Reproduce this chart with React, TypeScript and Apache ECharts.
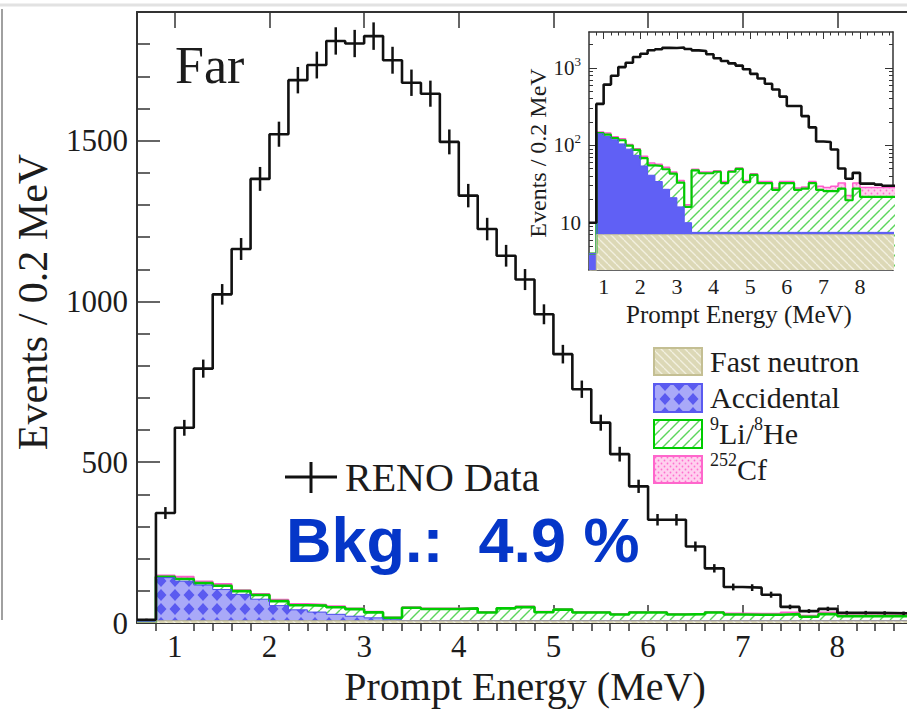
import React, { useEffect, useRef } from "react";
import * as echarts from "echarts";

// ---------------- data: 0.2 MeV bins (lower edges) ----------------
const BIN_LO = [
  0.6, 0.8, 1.0, 1.2, 1.4, 1.6, 1.8, 2.0, 2.2, 2.4, 2.6, 2.8, 3.0, 3.2,
  3.4, 3.6, 3.8, 4.0, 4.2, 4.4, 4.6, 4.8, 5.0, 5.2, 5.4, 5.6, 5.8, 6.0,
  6.2, 6.4, 6.6, 6.8, 7.0, 7.2, 7.4, 7.6, 7.8, 8.0, 8.2, 8.4, 8.6, 8.8,
];
const BIN_WIDTH = 0.2;

const RENO_DATA = [
  10, 342, 607, 791, 1022, 1163, 1381, 1520, 1688, 1735, 1810, 1802, 1825, 1750,
  1680, 1646, 1496, 1329, 1225, 1142, 1068, 960, 836, 727, 623, 525, 425, 321,
  321, 238, 170, 112, 110, 88, 50, 37, 44, 32, 32, 31, 30, 30,
];
const FAST_NEUTRON = [
  2, 7, 7, 7, 7, 7, 7, 7, 7, 7, 7, 7, 7, 7,
  7, 7, 7, 7, 7, 7, 7, 7, 7, 7, 7, 7, 7, 7,
  7, 7, 7, 7, 7, 7, 7, 7, 7, 7, 7, 7, 7, 7,
];
const ACCIDENTAL = [
  2, 134, 123, 111, 97, 82, 67, 47, 34, 27, 20, 14, 9, 3,
  0.5, 0.5, 0.5, 0.5, 0.5, 0.5, 0.5, 0.5, 0.5, 0.5, 0.5, 0.5, 0.5, 0.5,
  0.5, 0.5, 0.5, 0.5, 0.5, 0.5, 0.5, 0.5, 0.5, 0.5, 0.5, 0.5, 0.5, 0.5,
];
const LI_HE = [
  0, 3, 7, 6, 12, 10, 13, 14, 14, 20, 22, 22, 17, 6,
  40, 36, 36, 38, 25, 38, 42, 26, 34, 25, 25, 19, 25, 25,
  19, 20, 25, 19, 18, 18, 20, 12, 20, 14, 14, 14, 14, 14,
];
const CF_252 = [
  0, 4, 7, 5, 5, 3, 3, 4, 4, 3, 3, 2, 2, 1,
  1.5, 1.5, 1.5, 1.5, 1.5, 1.5, 1.5, 1.5, 1.5, 1.5, 1.5, 1.5, 1.5, 1.5,
  1.5, 1.5, 1.5, 3, 3, 4, 5, 3, 5, 7, 7, 7, 7, 7,
];

const X_TICK_LABELS = [1, 2, 3, 4, 5, 6, 7, 8];
const MAIN_Y_TICK_LABELS = [0, 500, 1000, 1500];
const INSET_Y_TICK_LABELS = [10, 100, 1000];

const MAIN_X_MIN = 0.6;
const MAIN_X_MAX = 8.736;
const MAIN_Y_MAX = 1900;
const INSET_X_MAX = 8.9;
const INSET_Y_MIN = 2.45;
const INSET_Y_MAX = 2900;

const SERIF = '"Liberation Serif", "Times New Roman", serif';
const SANS = '"Liberation Sans", Arial, sans-serif';
const INK = "#1c1c1c";
const AXIS = "#333333";

function cumulative(...arrs: number[][]) {
  return BIN_LO.map((_, i) => arrs.reduce((s, a) => s + a[i], 0));
}

function stepPoints(vals: number[]) {
  const pts: number[][] = BIN_LO.map((lo, i) => [lo, vals[i]]);
  pts.push([BIN_LO[BIN_LO.length - 1] + BIN_WIDTH, vals[vals.length - 1]]);
  return pts;
}

function makePattern(size: number, draw: (ctx: CanvasRenderingContext2D, s: number) => void) {
  const c = document.createElement("canvas");
  c.width = size;
  c.height = size;
  const ctx = c.getContext("2d")!;
  draw(ctx, size);
  return { image: c, repeat: "repeat", imageWidth: size, imageHeight: size };
}

function range(a: number, b: number, step: number) {
  const out: number[] = [];
  for (let k = 0; a + k * step <= b + 1e-9; k++) out.push(Math.round((a + k * step) * 1000) / 1000);
  return out;
}

function buildOption() {
  const fnPat = makePattern(8, (ctx, s) => {
    ctx.fillStyle = "#dcd8b6";
    ctx.fillRect(0, 0, s, s);
    ctx.strokeStyle = "#f2f0e0";
    ctx.lineWidth = 1.3;
    for (const k of [-s, 0, s]) {
      ctx.beginPath();
      ctx.moveTo(k, 0);
      ctx.lineTo(k + s, s);
      ctx.stroke();
    }
  });
  const accPat = makePattern(14, (ctx, s) => {
    ctx.fillStyle = "#a9a9f8";
    ctx.fillRect(0, 0, s, s);
    ctx.fillStyle = "#5a5af0";
    ctx.beginPath();
    ctx.moveTo(7, 1);
    ctx.lineTo(12.5, 7);
    ctx.lineTo(7, 13);
    ctx.lineTo(1.5, 7);
    ctx.closePath();
    ctx.fill();
  });
  const liPat = makePattern(10, (ctx, s) => {
    ctx.fillStyle = "#ffffff";
    ctx.fillRect(0, 0, s, s);
    ctx.strokeStyle = "#5cd65c";
    ctx.lineWidth = 1.4;
    for (const k of [-s, 0, s]) {
      ctx.beginPath();
      ctx.moveTo(k, s);
      ctx.lineTo(k + s, 0);
      ctx.stroke();
    }
  });
  const cfPat = makePattern(6, (ctx, s) => {
    ctx.fillStyle = "#ffd0ee";
    ctx.fillRect(0, 0, s, s);
    ctx.fillStyle = "#ff6fcf";
    for (const [x, y] of [[1.5, 1.5], [4.5, 4.5]]) {
      ctx.beginPath();
      ctx.arc(x, y, 0.9, 0, Math.PI * 2);
      ctx.fill();
    }
  });

  const cumFN = cumulative(FAST_NEUTRON);
  const cumAcc = cumulative(FAST_NEUTRON, ACCIDENTAL);
  const cumLi = cumulative(FAST_NEUTRON, ACCIDENTAL, LI_HE);
  const cumCf = cumulative(FAST_NEUTRON, ACCIDENTAL, LI_HE, CF_252);

  const xMinor = range(0.8, 8.8, 0.2).filter((v) => Math.abs(v - Math.round(v)) > 1e-6);
  const mainYMinor = range(100, 1800, 100).filter((v) => v % 500 !== 0);
  const insetYMinor: number[] = [];
  for (const d of [1, 10, 100, 1000])
    for (let m = 2; m <= 9; m++) {
      const v = m * d;
      if (v > INSET_Y_MIN && v < INSET_Y_MAX) insetYMinor.push(v);
    }

  const hidden = { show: false };
  const xAxis = (grid: number, position: string, max: number, ticks: number[], len: number, opts: any = {}) => ({
    type: "value",
    gridIndex: grid,
    position,
    min: MAIN_X_MIN,
    max,
    splitLine: hidden,
    axisLine: opts.line
      ? { show: true, onZero: false, lineStyle: { color: AXIS, width: opts.lineWidth || 2 } }
      : hidden,
    axisTick: {
      show: true,
      inside: true,
      length: len,
      customValues: ticks.filter((v) => v < max),
      lineStyle: { color: AXIS, width: opts.tickWidth || 1.5 },
    },
    axisLabel: opts.label
      ? {
          show: true,
          customValues: ticks,
          margin: opts.margin,
          fontFamily: SERIF,
          fontSize: opts.fontSize,
          color: INK,
          hideOverlap: false,
          formatter: (v: number) => String(v),
        }
      : hidden,
  });

  const mainAreas = [
    { vals: cumCf, fill: cfPat, line: "#ff5ccd", w: 2 },
    { vals: cumLi, fill: liPat, line: "#00cc00", w: 2.6 },
    { vals: cumAcc, fill: accPat, line: "#4b4bee", w: 1 },
    { vals: cumFN, fill: fnPat, line: "#b5b088", w: 1 },
  ];
  const insetAreas = [
    { vals: cumCf, fill: cfPat, line: "#ff5ccd", w: 1.5 },
    { vals: cumLi, fill: liPat, line: "#00cc00", w: 2.2 },
    { vals: cumAcc, fill: "#6060f5", line: "#5a5af2", w: 1 },
    { vals: cumFN, fill: fnPat, line: "#c9c59c", w: 1 },
  ];

  const areaSeries = (a: any, xi: number, yi: number, z: number) => ({
    type: "line",
    xAxisIndex: xi,
    yAxisIndex: yi,
    data: stepPoints(a.vals),
    step: "end",
    symbol: "none",
    silent: true,
    z,
    lineStyle: { color: a.line, width: a.w },
    areaStyle: { color: a.fill, opacity: 1, origin: "start" },
  });

  const series: any[] = [];
  mainAreas.forEach((a) => series.push(areaSeries(a, 0, 0, 2)));
  series.push({
    type: "line",
    xAxisIndex: 0,
    yAxisIndex: 0,
    data: stepPoints(RENO_DATA),
    step: "end",
    symbol: "none",
    silent: true,
    z: 5,
    lineStyle: { color: "#111111", width: 2.6 },
  });
  series.push({
    type: "custom",
    xAxisIndex: 0,
    yAxisIndex: 0,
    clip: true,
    silent: true,
    z: 6,
    data: BIN_LO.map((lo, i) => [lo + BIN_WIDTH / 2, RENO_DATA[i], Math.sqrt(RENO_DATA[i])]),
    encode: { x: 0, y: 1 },
    renderItem: (_p: any, api: any) => {
      const x = api.value(0);
      const v = api.value(1);
      const e = api.value(2);
      const a = api.coord([x, v - e]);
      const b = api.coord([x, v + e]);
      return {
        type: "line",
        shape: { x1: a[0], y1: a[1], x2: b[0], y2: b[1] },
        style: { stroke: "#111111", lineWidth: 2.5 },
      };
    },
  });
  insetAreas.forEach((a) => series.push(areaSeries(a, 4, 2, 2)));
  series.push({
    type: "line",
    xAxisIndex: 4,
    yAxisIndex: 2,
    data: stepPoints(RENO_DATA),
    step: "end",
    symbol: "none",
    silent: true,
    z: 5,
    lineStyle: { color: "#111111", width: 2.6 },
  });

  const logAxis = (position: string, ticks: number[], len: number, opts: any = {}) => ({
    type: "log",
    gridIndex: 1,
    position,
    min: INSET_Y_MIN,
    max: INSET_Y_MAX,
    logBase: 10,
    splitLine: hidden,
    axisLine: opts.line ? { show: true, lineStyle: { color: AXIS, width: 1.5 } } : hidden,
    axisTick: { show: true, inside: true, length: len, customValues: ticks, lineStyle: { color: AXIS, width: 1 } },
    axisLabel: opts.label
      ? {
          show: true,
          customValues: ticks,
          margin: 8,
          hideOverlap: false,
          formatter: (v: number) => {
            const p = Math.round(Math.log10(v));
            return p === 1 ? "{b|10}" : "{b|10}{s|" + p + "}";
          },
          rich: {
            b: { fontSize: 21, fontFamily: SERIF, color: INK },
            s: { fontSize: 13, fontFamily: SERIF, color: INK, padding: [0, 0, 13, 0] },
          },
        }
      : hidden,
  });

  const txt = (text: string, x: number, y: number, fontSize: number, extra: any = {}) => ({
    type: "text",
    x,
    y,
    z: 100,
    rotation: extra.rotation || 0,
    style: {
      text,
      fontSize,
      fontFamily: extra.fontFamily || SERIF,
      fontWeight: extra.fontWeight || "normal",
      fill: extra.fill || INK,
      align: extra.align || "left",
      verticalAlign: "middle",
      rich: extra.rich,
    },
  });
  const line = (x1: number, y1: number, x2: number, y2: number, stroke: string, lineWidth: number) => ({
    type: "line",
    z: 100,
    shape: { x1, y1, x2, y2 },
    style: { stroke, lineWidth },
  });
  const box = (y: number, h: number, fill: any, stroke: string) => ({
    type: "rect",
    z: 100,
    shape: { x: 654, y, width: 48, height: h },
    style: { fill, stroke, lineWidth: 2 },
  });

  const supRich = {
    s: { fontSize: 18, fontFamily: SERIF, color: INK, padding: [0, 0, 18, 0] },
    n: { fontSize: 30, fontFamily: SERIF, color: INK },
  };

  return {
    animation: false,
    backgroundColor: "#ffffff",
    textStyle: { fontFamily: SERIF },
    grid: [
      { left: 137, top: 12, width: 770, height: 611, containLabel: false, outerBoundsMode: "none" },
      { left: 589, top: 32, width: 304, height: 238, containLabel: false, outerBoundsMode: "none" },
    ],
    xAxis: [
      xAxis(0, "bottom", MAIN_X_MAX, X_TICK_LABELS, 18, { line: true, label: true, margin: 8, fontSize: 31 }),
      xAxis(0, "bottom", MAIN_X_MAX, xMinor, 9),
      xAxis(0, "top", MAIN_X_MAX, X_TICK_LABELS, 16, { line: true }),
      xAxis(0, "top", MAIN_X_MAX, xMinor, 8),
      xAxis(1, "bottom", INSET_X_MAX, X_TICK_LABELS, 7, { line: true, lineWidth: 1.5, tickWidth: 1, label: true, margin: 5, fontSize: 22 }),
      xAxis(1, "bottom", INSET_X_MAX, xMinor, 3.5, { tickWidth: 1 }),
      xAxis(1, "top", INSET_X_MAX, X_TICK_LABELS, 7, { line: true, lineWidth: 1.5, tickWidth: 1 }),
      xAxis(1, "top", INSET_X_MAX, xMinor, 3.5, { tickWidth: 1 }),
    ],
    yAxis: [
      {
        type: "value",
        gridIndex: 0,
        position: "left",
        min: 0,
        max: MAIN_Y_MAX,
        splitLine: hidden,
        axisLine: { show: true, onZero: false, lineStyle: { color: AXIS, width: 2 } },
        axisTick: { show: true, inside: true, length: 23, customValues: MAIN_Y_TICK_LABELS, lineStyle: { color: AXIS, width: 1.5 } },
        axisLabel: {
          show: true,
          customValues: MAIN_Y_TICK_LABELS,
          margin: 9,
          fontFamily: SERIF,
          fontSize: 31,
          color: INK,
          hideOverlap: false,
          formatter: (v: number) => String(v),
        },
      },
      {
        type: "value",
        gridIndex: 0,
        position: "left",
        min: 0,
        max: MAIN_Y_MAX,
        splitLine: hidden,
        axisLine: hidden,
        axisTick: { show: true, inside: true, length: 13, customValues: mainYMinor, lineStyle: { color: AXIS, width: 1.5 } },
        axisLabel: hidden,
      },
      logAxis("left", INSET_Y_TICK_LABELS, 8, { line: true, label: true }),
      logAxis("left", insetYMinor, 4),
      logAxis("right", INSET_Y_TICK_LABELS, 8, { line: true }),
      logAxis("right", insetYMinor, 4),
    ],
    series,
    graphic: {
      elements: [
        line(0, 5, 907, 5, "#e2e2e2", 3),
        line(2, 9, 2, 620, "#a0a0a0", 2),
        txt("Far", 175, 65, 52),
        txt("Events / 0.2 MeV", 33, 302, 42, { rotation: Math.PI / 2, align: "center" }),
        txt("Prompt Energy (MeV)", 525, 686, 40, { align: "center" }),
        line(285, 477, 337, 477, "#111111", 3),
        line(311, 462, 311, 493, "#111111", 3),
        txt("RENO Data", 345, 477, 40),
        txt("Bkg.:  4.9 %", 286, 540, 63, { fontFamily: SANS, fontWeight: "bold", fill: "#0536c8" }),
        box(348, 27, fnPat, "#c4bf93"),
        box(384, 28, accPat, "#5a5af0"),
        box(420, 28, liPat, "#00cc00"),
        box(456, 27, cfPat, "#ff66cc"),
        txt("Fast neutron", 710, 361, 30),
        txt("Accidental", 710, 397, 30),
        txt("{s|9}{n|Li/}{s|8}{n|He}", 710, 433, 30, { rich: supRich }),
        txt("{s|252}{n|Cf}", 710, 469, 30, { rich: supRich }),
        txt("Prompt Energy (MeV)", 739, 314, 25, { align: "center" }),
        txt("Events / 0.2 MeV", 538, 153, 24, { rotation: Math.PI / 2, align: "center" }),
      ],
    },
  };
}

export default function App() {
  const ref = useRef<HTMLDivElement>(null);
  useEffect(() => {
    document.body.style.margin = "0";
    const chart = echarts.init(ref.current!, undefined, { renderer: "svg" });
    chart.setOption(buildOption() as any);
    return () => chart.dispose();
  }, []);
  return (
    <div
      ref={ref}
      style={{ position: "fixed", left: 0, top: 0, width: 907, height: 711, background: "#ffffff" }}
    />
  );
}
